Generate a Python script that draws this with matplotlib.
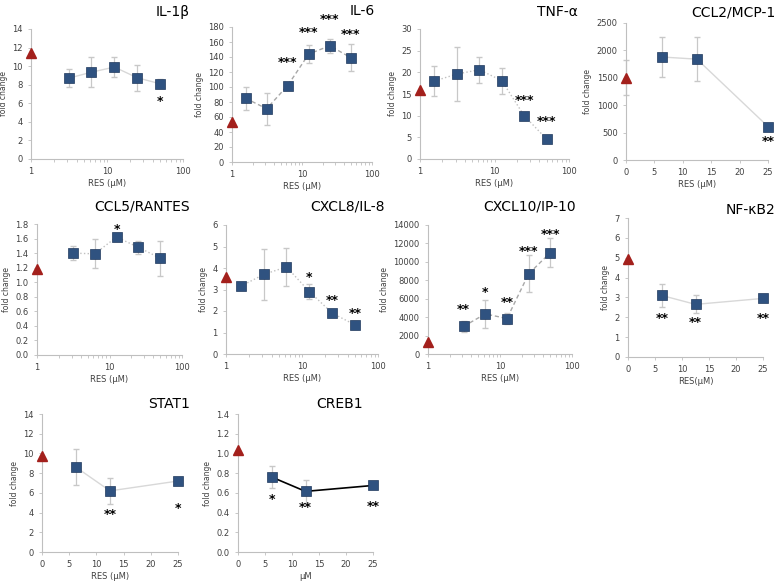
import matplotlib
matplotlib.use("Agg")
import matplotlib.pyplot as plt
from matplotlib.ticker import LogLocator, NullFormatter, FixedLocator

W, H = 778, 582

# doses
log_x5 = [3.125, 6.25, 12.5, 25, 50]
log_x6 = [1.5625, 3.125, 6.25, 12.5, 25, 50]
lin_x = [6.25, 12.5, 25]

# panel data: control (triangle) and RES treated (squares)
il1b_ctrl = 11.4
il1b_y = [8.7, 9.35, 9.9, 8.75, 8.1]
il1b_err = [1.0, 1.6, 1.1, 1.4, 0.5]
il1b_sig = ["", "", "", "", "*"]
il1b_sig_y = [0, 0, 0, 0, 6.2]

il6_ctrl = 54
il6_y = [85, 71, 102, 144, 155, 139]
il6_err = [15, 21, 3, 12, 9, 18]
il6_sig = ["", "", "***", "***", "***", "***"]
il6_sig_y = [0, 0, 133, 173, 190, 170]

tnf_ctrl = 16
tnf_y = [18, 19.6, 20.6, 18.1, 10, 4.6]
tnf_err = [3.5, 6.3, 3.0, 3.0, 0, 0]
tnf_sig = ["", "", "", "", "***", "***"]
tnf_sig_y = [0, 0, 0, 0, 13.6, 8.6]

ccl2_ctrl, ccl2_ctrl_err = 1500, 320
ccl2_y = [1880, 1840, 610]
ccl2_err = [370, 400, 0]
ccl2_sig = ["", "", "**"]
ccl2_sig_y = [0, 0, 330]

ccl5_ctrl = 1.18
ccl5_y = [1.40, 1.39, 1.62, 1.48, 1.33]
ccl5_err = [0.1, 0.2, 0.05, 0.09, 0.24]
ccl5_sig = ["", "", "*", "", ""]
ccl5_sig_y = [0, 0, 1.72, 0, 0]

cxcl8_ctrl = 3.6
cxcl8_y = [3.15, 3.7, 4.05, 2.9, 1.9, 1.35]
cxcl8_err = [0.1, 1.2, 0.9, 0.35, 0, 0.2]
cxcl8_sig = ["", "", "", "*", "**", "**"]
cxcl8_sig_y = [0, 0, 0, 3.55, 2.5, 1.9]

cxcl10_ctrl = 1300
cxcl10_y = [3000, 4350, 3850, 8700, 11000]
cxcl10_err = [600, 1500, 600, 2000, 1600]
cxcl10_sig = ["**", "*", "**", "***", "***"]
cxcl10_sig_y = [4800, 6700, 5600, 11100, 13000]

nfkb2_ctrl = 4.95
nfkb2_y = [3.1, 2.65, 2.95]
nfkb2_err = [0.6, 0.45, 0]
nfkb2_sig = ["**", "**", "**"]
nfkb2_sig_y = [1.95, 1.75, 1.95]

stat1_ctrl = 9.7
stat1_y = [8.6, 6.2, 7.2]
stat1_err = [1.8, 1.3, 0]
stat1_sig = ["", "**", "*"]
stat1_sig_y = [0, 3.8, 4.4]

creb1_ctrl = 1.03
creb1_y = [0.76, 0.615, 0.675]
creb1_err = [0.11, 0.12, 0]
creb1_sig = ["*", "**", "**"]
creb1_sig_y = [0.53, 0.45, 0.46]

BLUE = "#2f5280"
RED = "#a3201c"
GREY = "#c8c8c8"
TXT = "#404040"

fig = plt.figure(figsize=(W / 100, H / 100), dpi=100)
fig.patch.set_facecolor("white")


def make_axes(x0, x1, yt, yb):
    return fig.add_axes([x0 / W, 1 - yb / H, (x1 - x0) / W, (yb - yt) / H])


def panel(box, xs, ys, errs, ctrl, sig, sig_y, ymax, ystep, log, title, tpos,
          ls="-", lc="#d8d8d8", xlabel="RES (\u03bcM)", ctrl_err=0, yfmt="{:g}"):
    ax = make_axes(*box)
    cx = 1 if log else 0
    ax.plot(xs, ys, ls=ls, color=lc, lw=1.0 if lc != "black" else 1.2,
            zorder=1, clip_on=False)
    ax.errorbar(xs, ys, yerr=errs, fmt="none", ecolor=GREY, elinewidth=0.9,
                capsize=2, zorder=2)
    if ctrl_err:
        ax.errorbar([cx], [ctrl], yerr=[ctrl_err], fmt="none", ecolor=GREY,
                    elinewidth=0.9, capsize=2, zorder=2, clip_on=False)
    ax.plot(xs, ys, "s", color=BLUE, ms=7, mec="#20385c", mew=0.5, zorder=3,
            clip_on=False)
    ax.plot([cx], [ctrl], "^", color=RED, ms=6.5, zorder=4, clip_on=False)
    for x, s, sy in zip(xs, sig, sig_y):
        if s:
            ax.text(x, sy, s, ha="center", va="center", fontsize=9,
                    fontweight="bold", color="black")
    if log:
        ax.set_xscale("log")
        ax.set_xlim(1, 100)
        ax.xaxis.set_major_locator(FixedLocator([1, 10, 100]))
        ax.set_xticklabels(["1", "10", "100"])
        ax.xaxis.set_minor_locator(LogLocator(base=10, subs=range(2, 10)))
        ax.xaxis.set_minor_formatter(NullFormatter())
    else:
        ax.set_xlim(0, 25)
        ax.set_xticks([0, 5, 10, 15, 20, 25])
    ax.set_ylim(0, ymax)
    ticks = [i * ystep for i in range(int(round(ymax / ystep)) + 1)]
    ax.set_yticks(ticks)
    ax.set_yticklabels([yfmt.format(t) for t in ticks])
    for side in ("top", "right"):
        ax.spines[side].set_visible(False)
    for side in ("left", "bottom"):
        ax.spines[side].set_color("#bfbfbf")
        ax.spines[side].set_linewidth(0.8)
    ax.tick_params(which="both", colors="#bfbfbf", labelcolor=TXT,
                   labelsize=6, length=2.5, width=0.6)
    ax.tick_params(which="minor", length=1.8)
    ax.set_ylabel("fold change", fontsize=5.5, color=TXT, labelpad=3)
    ax.set_xlabel(xlabel, fontsize=6, color=TXT, labelpad=2)
    ax.patch.set_alpha(0)
    fig.text(tpos[0] / W, 1 - tpos[1] / H, title, ha="right", va="center",
             fontsize=10, color="black")
    return ax


panel((31, 183, 29, 159), log_x5, il1b_y, il1b_err, il1b_ctrl, il1b_sig,
      il1b_sig_y, 14, 2, True, "IL-1\u03b2", (190, 12))
panel((232, 372, 27, 162), log_x6, il6_y, il6_err, il6_ctrl, il6_sig,
      il6_sig_y, 180, 20, True, "IL-6", (375, 11), ls=(0, (3, 2)), lc="#a8a8a8")
panel((420, 569, 29, 159), log_x6, tnf_y, tnf_err, tnf_ctrl, tnf_sig,
      tnf_sig_y, 30, 5, True, "TNF-\u03b1", (578, 12), ls=":", lc="#c0c0c0")
panel((626, 768, 23, 160), lin_x, ccl2_y, ccl2_err, ccl2_ctrl, ccl2_sig,
      ccl2_sig_y, 2500, 500, False, "CCL2/MCP-1", (775, 13), ctrl_err=ccl2_ctrl_err)

panel((37, 182, 224, 355), log_x5, ccl5_y, ccl5_err, ccl5_ctrl, ccl5_sig,
      ccl5_sig_y, 1.8, 0.2, True, "CCL5/RANTES", (190, 206), ls=":", lc="#c0c0c0",
      yfmt="{:.1f}")
panel((226, 378, 225, 354), log_x6, cxcl8_y, cxcl8_err, cxcl8_ctrl, cxcl8_sig,
      cxcl8_sig_y, 6, 1, True, "CXCL8/IL-8", (385, 206), ls=":", lc="#c0c0c0")
panel((428, 572, 225, 354), log_x5, cxcl10_y, cxcl10_err, cxcl10_ctrl, cxcl10_sig,
      cxcl10_sig_y, 14000, 2000, True, "CXCL10/IP-10", (576, 206),
      ls=(0, (3, 2)), lc="#a8a8a8")
panel((628, 763, 218, 357), lin_x, nfkb2_y, nfkb2_err, nfkb2_ctrl, nfkb2_sig,
      nfkb2_sig_y, 7, 1, False, "NF-\u03baB2", (775, 210), xlabel="RES(\u03bcM)")

panel((42, 178, 414, 552), lin_x, stat1_y, stat1_err, stat1_ctrl, stat1_sig,
      stat1_sig_y, 14, 2, False, "STAT1", (190, 404))
panel((238, 373, 414, 552), lin_x, creb1_y, creb1_err, creb1_ctrl, creb1_sig,
      creb1_sig_y, 1.4, 0.2, False, "CREB1", (363, 404), lc="black",
      xlabel="\u03bcM", yfmt="{:.1f}")

fig.savefig("out.png", dpi=100)
